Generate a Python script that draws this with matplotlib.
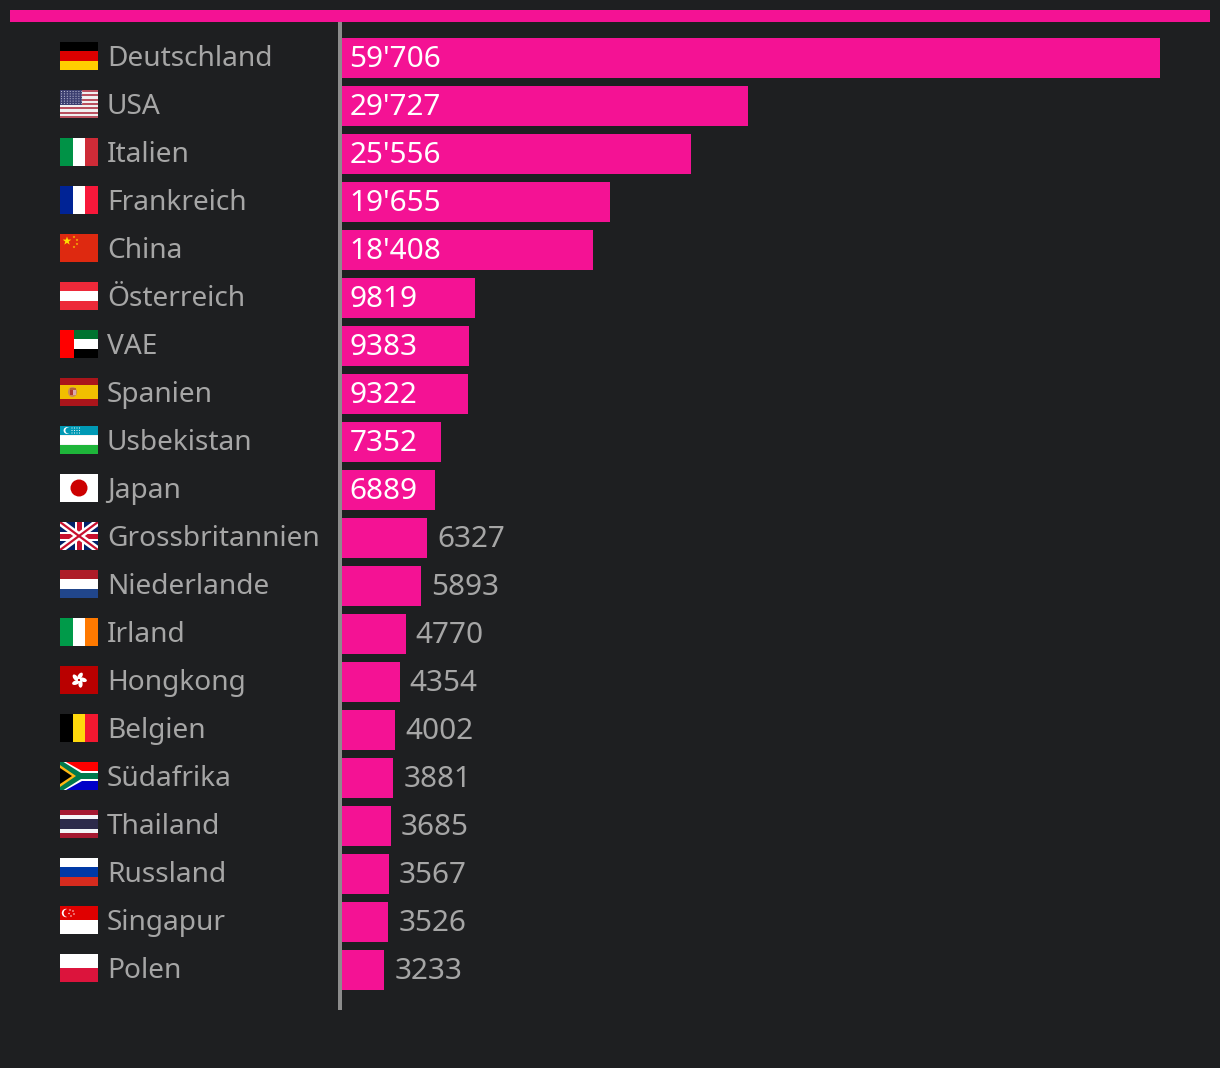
import matplotlib
matplotlib.use("Agg")
import matplotlib.pyplot as plt
import numpy as np
from matplotlib.patches import Rectangle, Polygon, Circle, Ellipse

countries = ["Deutschland", "USA", "Italien", "Frankreich", "China", "Österreich", "VAE",
             "Spanien", "Usbekistan", "Japan", "Grossbritannien", "Niederlande", "Irland",
             "Hongkong", "Belgien", "Südafrika", "Thailand", "Russland", "Singapur", "Polen"]
values = [59706, 29727, 25556, 19655, 18408, 9819, 9383, 9322, 7352, 6889,
          6327, 5893, 4770, 4354, 4002, 3881, 3685, 3567, 3526, 3233]

BG = "#1e1f21"
PINK = "#f41294"
GREY = "#a6a6a6"
W, H = 1220, 1068

plt.rcParams["font.family"] = ["Noto Sans", "DejaVu Sans"]

fig = plt.figure(figsize=(W / 100, H / 100), dpi=100, facecolor=BG)


def px_axes(x0, y0, x1, y1):
    # axes from pixel box, y counted from the top
    return fig.add_axes([x0 / W, 1 - y1 / H, (x1 - x0) / W, (y1 - y0) / H])


# top stripe
top = px_axes(10, 10, 1210, 22)
top.set_facecolor(PINK)
top.set_xticks([])
top.set_yticks([])
for s in top.spines.values():
    s.set_visible(False)

# bars
ax = px_axes(340, 22, 1160, 1010)
ax.patch.set_alpha(0)
ax.set_xlim(0, max(values))
ax.set_ylim(19.833, -0.75)
ypos = np.arange(len(values))
ax.barh(ypos, values, height=40 / 48, color=PINK)
for s in ["top", "right", "bottom"]:
    ax.spines[s].set_visible(False)
ax.spines["left"].set_color("#8c8c8c")
ax.spines["left"].set_linewidth(4 * 0.72)
ax.spines["left"].set_capstyle("butt")
ax.set_xticks([])
ax.set_yticks([])

FS_NAME = 20.2
FS_VALUE = 21.4
px = max(values) / 820  # one pixel in data units


def fmt(v):
    if v >= 10000:
        return f"{v // 1000}'{v % 1000:03d}"
    return str(v)


for i, (name, v) in enumerate(zip(countries, values)):
    y = i - 2.5 / 48
    ax.text(-233 * px, y, name, color=GREY, fontsize=FS_NAME, va="center_baseline", clip_on=False)
    if v > 6500:
        ax.text(9.5 * px, y, fmt(v), color="white", fontsize=FS_VALUE, va="center_baseline")
    else:
        ax.text(v + 10 * px, y, fmt(v), color=GREY, fontsize=FS_VALUE, va="center_baseline")


# flags, drawn in a 38 x 28 box
def rect(a, x, y, w, h, c):
    a.add_patch(Rectangle((x, y), w, h, color=c, lw=0))


def hstripes(a, cols, sizes=None):
    sizes = sizes or [28 / len(cols)] * len(cols)
    y = 0
    for c, h in zip(cols, sizes):
        rect(a, 0, y, 38, h, c)
        y += h


def vstripes(a, cols):
    for i, c in enumerate(cols):
        rect(a, i * 38 / len(cols), 0, 38 / len(cols), 28, c)


def star(a, x, y, r, c):
    ang = np.radians(np.arange(10) * 36 - 90)
    rad = np.where(np.arange(10) % 2 == 0, r, r * 0.4)
    a.add_patch(Polygon(np.c_[x + rad * np.cos(ang), y + rad * np.sin(ang)], color=c, lw=0))


def flag_usa(a):
    hstripes(a, ["#b9505f", "#f0f0f0"] * 6 + ["#b9505f"])
    rect(a, 0, 0, 22, 15, "#3c3f70")
    for yy in np.arange(1.5, 15, 2.4):
        for xx in np.arange(1.5, 22, 2.9):
            a.add_patch(Circle((xx, yy), 0.55, color="#c9cbe0", lw=0))


def flag_china(a):
    rect(a, 0, 0, 38, 28, "#de2910")
    star(a, 7, 7, 4.5, "#ffde00")
    for x, y in [(14, 3), (17, 6), (17, 10), (14, 13)]:
        star(a, x, y, 1.4, "#ffde00")


def flag_uae(a):
    hstripes(a, ["#00732f", "white", "black"])
    rect(a, 0, 0, 13.5, 28, "#ff0000")


def flag_spain(a):
    hstripes(a, ["#aa151b", "#f1bf00", "#aa151b"], [7, 14, 7])
    a.add_patch(Ellipse((12.5, 14), 9, 10, color="#c98a5a", lw=0))
    rect(a, 10, 12, 3, 5, "#b03a2e")
    rect(a, 13, 12, 2.5, 5, "#d9a9b0")
    rect(a, 9.5, 9.5, 6, 2, "#b5603a")


def flag_uzb(a):
    hstripes(a, ["#0099b5", "#f4f4f4", "white", "#f4f4f4", "#1eb53a"], [9, 1, 8, 1, 9])
    a.add_patch(Circle((7, 4.5), 3.4, color="white", lw=0))
    a.add_patch(Circle((8.4, 4.5), 3, color="#0099b5", lw=0))
    for x in [12, 14.5, 17, 19.5]:
        for y in [2, 4.5, 7]:
            a.add_patch(Circle((x, y), 0.55, color="white", lw=0))


def flag_japan(a):
    rect(a, 0, 0, 38, 28, "white")
    a.add_patch(Circle((19, 14), 8.5, color="#cc0000", lw=0))


def flag_uk(a):
    rect(a, 0, 0, 38, 28, "#012169")
    a.plot([0, 38], [0, 28], color="white", lw=5, solid_capstyle="butt")
    a.plot([0, 38], [28, 0], color="white", lw=5, solid_capstyle="butt")
    a.plot([0, 38], [0, 28], color="#c8102e", lw=1.6, solid_capstyle="butt")
    a.plot([0, 38], [28, 0], color="#c8102e", lw=1.6, solid_capstyle="butt")
    rect(a, 14.5, 0, 9, 28, "white")
    rect(a, 0, 9.5, 38, 9, "white")
    rect(a, 16.5, 0, 5, 28, "#c8102e")
    rect(a, 0, 11.5, 38, 5, "#c8102e")


def flag_hk(a):
    rect(a, 0, 0, 38, 28, "#b90000")
    for k in range(5):
        deg = k * 72 - 75
        t = np.radians(deg)
        a.add_patch(Ellipse((19 + 4.2 * np.cos(t), 14 + 4.2 * np.sin(t)), 7.5, 4.2, angle=deg + 20, color="white", lw=0))
    a.add_patch(Circle((19, 14), 1, color="#b90000", lw=0))


def flag_za(a):
    hstripes(a, ["#ff0000", "#0000c8"], [14, 14])
    a.add_patch(Polygon([(0, 0), (6, 0), (22, 9), (38, 9), (38, 19), (22, 19), (6, 28), (0, 28)], color="white", lw=0))
    a.add_patch(Polygon([(0, 0), (3.5, 0), (21, 11), (38, 11), (38, 17), (21, 17), (3.5, 28), (0, 28)], color="#007a4d", lw=0))
    a.add_patch(Polygon([(0, 3), (16, 14), (0, 25)], color="#ffb612", lw=0))
    a.add_patch(Polygon([(0, 6), (12, 14), (0, 22)], color="black", lw=0))


def flag_sg(a):
    hstripes(a, ["#e00000", "white"])
    a.add_patch(Circle((6, 7), 4.2, color="white", lw=0))
    a.add_patch(Circle((7.6, 7), 4, color="#e00000", lw=0))
    for x, y in [(10, 4), (13, 5), (14, 8), (11, 10), (9, 7.5)]:
        a.add_patch(Circle((x, y), 0.7, color="white", lw=0))


flags = [
    lambda a: hstripes(a, ["#000000", "#dd0000", "#ffce00"]),
    flag_usa,
    lambda a: vstripes(a, ["#009246", "#ffffff", "#ce2b37"]),
    lambda a: vstripes(a, ["#002395", "#ffffff", "#f8183a"]),
    flag_china,
    lambda a: hstripes(a, ["#ed2939", "#ffffff", "#ed2939"]),
    flag_uae,
    flag_spain,
    flag_uzb,
    flag_japan,
    flag_uk,
    lambda a: hstripes(a, ["#ae1c28", "#ffffff", "#21468b"]),
    lambda a: vstripes(a, ["#009a49", "#ffffff", "#ff7900"]),
    flag_hk,
    lambda a: vstripes(a, ["#000000", "#ffd90c", "#f31830"]),
    flag_za,
    lambda a: hstripes(a, ["#a51931", "#f4f5f8", "#2d2a4a", "#f4f5f8", "#a51931"], [4.67, 4.67, 9.33, 4.67, 4.67]),
    lambda a: hstripes(a, ["#ffffff", "#0039a6", "#d52b1e"]),
    flag_sg,
    lambda a: hstripes(a, ["#ffffff", "#dc143c"]),
]

for i, draw in enumerate(flags):
    cy = 56 + 48 * i
    f = px_axes(60, cy - 14, 98, cy + 14)
    f.set_xlim(0, 38)
    f.set_ylim(28, 0)
    f.axis("off")
    draw(f)

fig.savefig("out.png", dpi=100, facecolor=BG)
